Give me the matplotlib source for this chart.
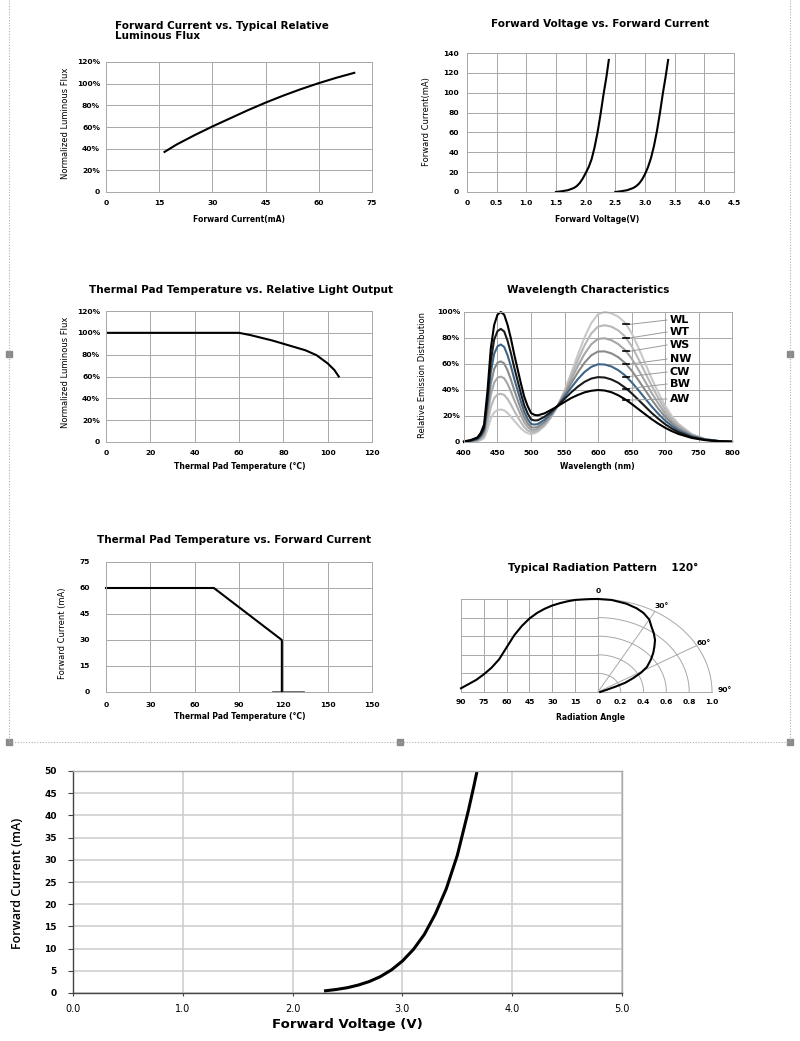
import numpy as np
import matplotlib
matplotlib.use("Agg")
import matplotlib.pyplot as plt

W, H = 800, 1041

# forward current vs typical relative luminous flux
flux_current = [16.5, 20, 25, 30, 35, 40, 45, 50, 55, 60, 65, 70]
flux_percent = [37, 44, 52.5, 60.5, 68, 75.5, 82.5, 89, 95, 100.5, 105.5, 110]

# forward voltage vs forward current (two dice)
vf_low = [1.5, 1.6, 1.7, 1.8, 1.85, 1.9, 1.95, 2.0, 2.05, 2.1, 2.15, 2.2, 2.25, 2.3, 2.35, 2.39]
if_low = [0, 0.8, 1.8, 4, 6, 9, 13.5, 19, 25, 33, 45, 60, 78, 98, 116, 133]
vf_high = [2.5, 2.6, 2.7, 2.8, 2.85, 2.9, 2.95, 3.0, 3.05, 3.1, 3.15, 3.2, 3.25, 3.3, 3.35, 3.39]
if_high = [0, 0.8, 1.8, 4, 5.8, 8.5, 12.5, 18, 25, 34, 46, 61, 79, 99, 117, 133]

# thermal pad temperature vs relative light output
pad_temp = [0, 20, 40, 60, 65, 70, 75, 80, 85, 90, 95, 100, 103, 105]
light_out = [100, 100, 100, 100, 98, 95.5, 93, 90, 87, 84, 79.5, 72, 66, 60]

# thermal pad temperature vs forward current (derating)
derate_temp = [0, 73, 119, 119]
derate_current = [60, 60, 30, 0]
zero_seg_temp = [113, 134]
zero_seg_current = [0, 0]

# wavelength characteristics
wl_nm = [400, 410, 420, 425, 430, 435, 440, 445, 450, 455, 460, 465, 470, 475, 480, 485,
         490, 495, 500, 505, 510, 520, 530, 540, 550, 560, 570, 580, 590, 600, 610, 620,
         630, 640, 650, 660, 670, 680, 690, 700, 710, 720, 740, 760, 780, 800]
spec_AW = [0.5, 1.5, 3.5, 7.0, 13.5, 39.0, 72.0, 90.0, 98.0, 100.0, 97.9, 90.1, 79.6, 67.3, 56.1, 44.9,
           34.7, 27.6, 22.3, 20.9, 20.5, 22.0, 24.7, 27.6, 30.8, 33.8, 36.2, 38.2, 39.4, 40.0, 39.6, 38.3,
           36.0, 33.0, 29.4, 25.4, 21.5, 17.6, 14.1, 11.0, 8.4, 6.2, 3.1, 1.4, 0.6, 0.2]
spec_BW = [0.1, 1.1, 3.0, 5.6, 10.8, 33.1, 62.2, 78.7, 85.3, 87.0, 85.0, 77.9, 68.4, 57.3, 47.2, 37.2,
           28.1, 21.9, 17.4, 16.6, 16.7, 19.3, 23.3, 28.0, 33.2, 38.2, 42.6, 46.3, 48.8, 49.9, 49.6, 48.1,
           45.6, 42.0, 37.6, 32.6, 27.5, 22.4, 17.9, 13.8, 10.4, 7.6, 3.7, 1.7, 0.7, 0.3]
spec_CW = [0.0, 0.8, 2.3, 4.6, 9.1, 28.4, 53.7, 67.8, 73.6, 75.0, 73.1, 66.7, 58.3, 48.6, 39.7, 30.9,
           23.1, 17.6, 13.9, 13.4, 13.8, 17.0, 21.9, 28.0, 34.9, 41.8, 48.4, 53.9, 57.8, 59.8, 59.6, 58.1,
           55.3, 51.4, 46.1, 40.1, 33.7, 27.4, 21.7, 16.6, 12.4, 8.9, 4.3, 1.9, 0.7, 0.2]
spec_NW = [0.0, 0.6, 1.8, 3.7, 7.5, 23.5, 44.5, 56.2, 61.0, 62.0, 60.4, 55.1, 48.0, 39.9, 32.5, 25.2,
           18.8, 14.3, 11.3, 11.1, 11.7, 15.3, 21.0, 28.0, 36.3, 45.1, 53.6, 61.1, 66.7, 69.6, 69.7, 68.2,
           65.3, 61.0, 55.1, 47.8, 40.2, 32.6, 25.7, 19.5, 14.4, 10.3, 4.8, 2.0, 0.8, 0.3]
spec_WS = [0.0, 0.5, 1.5, 3.0, 6.0, 19.0, 36.1, 45.6, 49.5, 50.3, 49.0, 44.7, 38.9, 32.3, 26.2, 20.3,
           15.1, 11.6, 9.3, 9.3, 10.1, 14.0, 20.0, 27.9, 37.5, 48.0, 58.5, 67.9, 75.2, 79.3, 79.8, 78.3,
           75.4, 71.0, 64.4, 55.9, 46.9, 37.8, 29.7, 22.2, 16.2, 11.6, 5.3, 2.1, 0.7, 0.2]
spec_WT = [0.0, 0.4, 1.1, 2.2, 4.4, 14.1, 26.6, 33.7, 36.5, 37.1, 36.2, 33.1, 28.8, 23.9, 19.5, 15.2,
           11.4, 9.0, 7.6, 7.9, 8.8, 12.9, 19.4, 27.9, 38.6, 50.6, 63.0, 74.4, 83.5, 88.8, 89.8, 88.7,
           85.9, 81.4, 74.0, 64.3, 53.8, 43.4, 33.8, 25.1, 18.2, 12.8, 5.7, 2.2, 0.7, 0.3]
spec_WL = [0.0, 0.3, 0.8, 1.5, 3.0, 9.5, 18.0, 22.8, 24.6, 25.0, 24.4, 22.3, 19.5, 16.3, 13.4, 10.5,
           8.2, 6.8, 6.0, 6.7, 7.9, 12.2, 18.8, 28.0, 39.6, 53.0, 67.2, 80.6, 91.5, 98.3, 100.0, 99.0,
           96.5, 92.0, 84.0, 73.0, 61.0, 49.0, 38.0, 28.0, 20.0, 14.0, 6.0, 2.2, 0.7, 0.2]
spec_names = ["WL", "WT", "WS", "NW", "CW", "BW", "AW"]
spec_colors = ["#c8c8c8", "#b8b8b8", "#a6a6a6", "#8a8a8a", "#3e6486", "#1a1a1a", "#000000"]
spec_label_y = [93.8, 84.6, 74.6, 63.8, 53.8, 44.6, 33.1]

# typical radiation pattern
rad_angle = [0, 5, 10, 15, 20, 25, 30, 35, 40, 45, 50, 55, 60, 65, 70, 75, 80, 85, 90]
rad_rel = [1.0, 0.999, 0.995, 0.99, 0.975, 0.955, 0.93, 0.895, 0.85, 0.79, 0.71, 0.61, 0.48,
           0.35, 0.26, 0.19, 0.13, 0.085, 0.04]
polar_angle = [0, 6.9, 14.7, 20.7, 25.2, 30.0, 33.9, 37.9, 41.8, 45.3, 49.1, 53.0, 57.9, 61.1,
               64.2, 67.4, 69.4, 72.6, 90]
polar_r = [1.0, 0.997, 0.982, 0.962, 0.939, 0.9, 0.843, 0.798, 0.751, 0.697, 0.642, 0.582, 0.508,
           0.434, 0.344, 0.26, 0.171, 0.084, 0.02]

# forward voltage vs forward current (large chart)
vf_main = [2.3, 2.4, 2.5, 2.6, 2.7, 2.8, 2.9, 3.0, 3.1, 3.2, 3.3, 3.4, 3.5, 3.6, 3.65, 3.68]
if_main = [0.5, 0.8, 1.2, 1.8, 2.6, 3.7, 5.2, 7.2, 9.8, 13.2, 17.8, 23.5, 31, 41, 46.5, 50]

GRID = "#a8a8a8"
NARROW = ["Liberation Sans Narrow", "DejaVu Sans"]

fig = plt.figure(figsize=(W / 100, H / 100), dpi=100)


def px_box(x0, y0, x1, y1):
    return [x0 / W, 1 - y1 / H, (x1 - x0) / W, (y1 - y0) / H]


def ftext(x, y, s, **kw):
    fig.text(x / W, 1 - y / H, s, **kw)


# dotted page frame and handles
deco = fig.add_axes([0, 0, 1, 1])
deco.set_xlim(0, W)
deco.set_ylim(H, 0)
deco.axis("off")
deco.plot([9, 9], [0, 742], color="#b0b0b0", lw=0.8, ls=(0, (1, 1.5)))
deco.plot([790, 790], [0, 742], color="#b0b0b0", lw=0.8, ls=(0, (1, 1.5)))
deco.plot([9, 790], [742, 742], color="#b0b0b0", lw=0.8, ls=(0, (1, 1.5)))
for hx, hy in [(9, 354), (790, 354), (9, 742), (400, 742), (790, 742)]:
    deco.add_patch(plt.Rectangle((hx - 3, hy - 3), 6, 6, color="#8a8a8a"))


def panel(box, xlim, ylim, xticks, xlabels, yticks, ylabels, xpad, ypad):
    ax = fig.add_axes(px_box(*box))
    ax.set_xlim(xlim)
    ax.set_ylim(ylim)
    ax.set_xticks(xticks, xlabels)
    ax.set_yticks(yticks, ylabels)
    ax.grid(True, color=GRID, lw=0.7)
    ax.set_axisbelow(True)
    for s in ax.spines.values():
        s.set_color(GRID)
        s.set_linewidth(0.7)
    ax.tick_params(axis="x", length=0, labelsize=5.4, pad=xpad)
    ax.tick_params(axis="y", length=0, labelsize=5.4, pad=ypad)
    for t in ax.get_xticklabels() + ax.get_yticklabels():
        t.set_fontweight("bold")
    return ax


def labels(ax, xl, xpos, yl, ypos):
    ax.set_xlabel(xl, fontsize=5.5, fontweight="bold")
    ax.xaxis.set_label_coords(*xpos)
    ax.xaxis.label.set_va("center")
    if yl:
        ax.set_ylabel(yl, fontsize=6, family=NARROW)
        ax.yaxis.set_label_coords(*ypos)
        ax.yaxis.label.set_va("center")


pct = lambda vals: ["0" if v == 0 else f"{v}%" for v in vals]

# panel 1
ax1 = panel((106, 62, 372, 192), (0, 75), (0, 120), range(0, 76, 15),
            [str(v) for v in range(0, 76, 15)], range(0, 121, 20), pct(range(0, 121, 20)), 5.8, 4.3)
ax1.plot(flux_current, flux_percent, color="black", lw=1.5)
labels(ax1, "Forward Current(mA)", (0.5, -0.208), "Normalized Luminous Flux", (-0.154, 0.53))
ftext(115, 21, "Forward Current vs. Typical Relative\nLuminous Flux", fontsize=7.5,
      fontweight="bold", ha="left", va="top", linespacing=1.0)

# panel 2
xt2 = [0, 0.5, 1.0, 1.5, 2.0, 2.5, 3.0, 3.5, 4.0, 4.5]
ax2 = panel((467, 53, 734, 192), (0, 4.5), (0, 140), xt2, ["0"] + [f"{v:.1f}" for v in xt2[1:]],
            range(0, 141, 20), [str(v) for v in range(0, 141, 20)], 5.8, 5.8)
ax2.plot(vf_low, if_low, color="black", lw=1.5)
ax2.plot(vf_high, if_high, color="black", lw=1.5)
labels(ax2, "Forward Voltage(V)", (0.487, -0.2), "Forward Current(mA)", (-0.15, 0.504))
ftext(600, 24, "Forward Voltage vs. Forward Current", fontsize=7.5, fontweight="bold",
      ha="center", va="center")

# panel 3
ax3 = panel((106, 311, 372, 442), (0, 120), (0, 120), range(0, 121, 20),
            [str(v) for v in range(0, 121, 20)], range(0, 121, 20), pct(range(0, 121, 20)), 5.8, 4.3)
ax3.plot(pad_temp, light_out, color="black", lw=1.5)
labels(ax3, "Thermal Pad Temperature (°C)", (0.504, -0.19), "Normalized Luminous Flux", (-0.154, 0.534))
ftext(241, 290, "Thermal Pad Temperature vs. Relative Light Output", fontsize=7.5,
      fontweight="bold", ha="center", va="center")

# panel 4
ax4 = panel((464, 312, 732, 442), (400, 800), (0, 100), range(400, 801, 50),
            [str(v) for v in range(400, 801, 50)], range(0, 101, 20), pct(range(0, 101, 20)), 5.8, 2.9)
series = [spec_WL, spec_WT, spec_WS, spec_NW, spec_CW, spec_BW, spec_AW]
for name, vals, col in zip(spec_names, series, spec_colors):
    ax4.plot(wl_nm, vals, color=col, lw=1.5, clip_on=False)
for name, vals, ly in zip(spec_names, series, spec_label_y):
    ty = np.interp(642, wl_nm, vals)
    ax4.plot([646, 703], [ty, ly], color="#9a9a9a", lw=0.7)
    ax4.plot([637, 646], [ty, ty], color="black", lw=1.2)
    ax4.text(707, ly, name, fontsize=8, fontweight="bold", ha="left", va="center")
labels(ax4, "Wavelength (nm)", (0.496, -0.192), "Relative Emission Distribution", (-0.153, 0.515))
ftext(588, 290, "Wavelength Characteristics", fontsize=7.5, fontweight="bold",
      ha="center", va="center")

# panel 5
ax5 = panel((106, 562, 372, 692), (0, 180), (0, 75), range(0, 181, 30),
            ["0", "30", "60", "90", "120", "150", "150"], range(0, 76, 15),
            [str(v) for v in range(0, 76, 15)], 7.2, 11.5)
ax5.plot(zero_seg_temp, zero_seg_current, color="#555555", lw=1.2, clip_on=False)
ax5.plot(derate_temp, derate_current, color="black", lw=1.5, clip_on=False)
labels(ax5, "Thermal Pad Temperature (°C)", (0.504, -0.192), "Forward Current (mA)", (-0.162, 0.454))
ftext(234, 540, "Thermal Pad Temperature vs. Forward Current", fontsize=7.5,
      fontweight="bold", ha="center", va="center")

# panel 6: radiation pattern
ax6 = fig.add_axes(px_box(461, 599, 712, 692))
ax6.set_xlim(-1.2, 1.0)
ax6.set_ylim(0, 1)
for s in ax6.spines.values():
    s.set_visible(False)
xt6 = [-1.2, -1.0, -0.8, -0.6, -0.4, -0.2, 0, 0.2, 0.4, 0.6, 0.8, 1.0]
ax6.set_xticks(xt6, ["90", "75", "60", "45", "30", "15", "0", "0.2", "0.4", "0.6", "0.8", "1.0"])
ax6.set_yticks([])
ax6.tick_params(axis="x", length=0, labelsize=5.4, pad=5)
for t in ax6.get_xticklabels():
    t.set_fontweight("bold")
for gx in xt6[:7]:
    ax6.plot([gx, gx], [0, 1], color=GRID, lw=0.7, clip_on=False)
for gy in [0.2, 0.4, 0.6, 0.8, 1.0]:
    ax6.plot([-1.2, 0], [gy, gy], color=GRID, lw=0.7, clip_on=False)
ax6.plot([-1.2, 1.0], [0, 0], color=GRID, lw=0.7, clip_on=False)
th = np.radians(np.linspace(0, 90, 60))
for r in [0.2, 0.4, 0.6, 0.8, 1.0]:
    ax6.plot(r * np.sin(th), r * np.cos(th), color=GRID, lw=0.7, clip_on=False)
for a in [30, 60]:
    ax6.plot([0, np.sin(np.radians(a))], [0, np.cos(np.radians(a))], color=GRID, lw=0.7, clip_on=False)
ax6.plot(-np.array(rad_angle) / 75.0, rad_rel, color="black", lw=1.5, clip_on=False)
pa = np.radians(polar_angle)
ax6.plot(np.array(polar_r) * np.sin(pa), np.array(polar_r) * np.cos(pa), color="black", lw=1.5,
         clip_on=False)
for s, tx, ty in [("0", 0, 1.09), ("30°", 0.56, 0.93), ("60°", 0.93, 0.53), ("90°", 1.11, 0.02)]:
    ax6.text(tx, ty, s, fontsize=5.4, fontweight="bold", ha="center", va="center")
ax6.set_xlabel("Radiation Angle", fontsize=5.5, fontweight="bold")
ax6.xaxis.set_label_coords(0.514, -0.269)
ax6.xaxis.label.set_va("center")
ftext(603, 568, "Typical Radiation Pattern    120°", fontsize=7.5, fontweight="bold",
      ha="center", va="center")

# panel 7: large forward voltage chart
ax7 = fig.add_axes(px_box(73, 771, 622, 993))
ax7.set_xlim(0, 5)
ax7.set_ylim(0, 50)
ax7.set_xticks(range(0, 6), [f"{v:.1f}" for v in range(0, 6)])
ax7.set_yticks(range(0, 51, 5))
ax7.grid(True, color="#cccccc", lw=1.1)
ax7.set_axisbelow(True)
for side in ["left", "bottom"]:
    ax7.spines[side].set_color("#444444")
    ax7.spines[side].set_linewidth(1.0)
for side in ["top", "right"]:
    ax7.spines[side].set_color("#aaaaaa")
    ax7.spines[side].set_linewidth(1.0)
ax7.tick_params(axis="y", length=3.6, width=0.8, color="#444444", labelsize=6.5, pad=8)
ax7.tick_params(axis="x", length=2.2, width=0.8, color="#444444", labelsize=7, pad=6)
for t in ax7.get_yticklabels():
    t.set_fontweight("bold")
ax7.plot(vf_main, if_main, color="black", lw=2.2)
ax7.set_xlabel("Forward Voltage (V)", fontsize=9.5, fontweight="bold")
ax7.xaxis.set_label_coords(0.5, -0.144)
ax7.xaxis.label.set_va("center")
ax7.set_ylabel("Forward Current (mA)", fontsize=9, family="Open Sans", fontweight="semibold")
ax7.yaxis.set_label_coords(-0.102, 0.495)
ax7.yaxis.label.set_va("center")

fig.savefig("out.png", dpi=100)
